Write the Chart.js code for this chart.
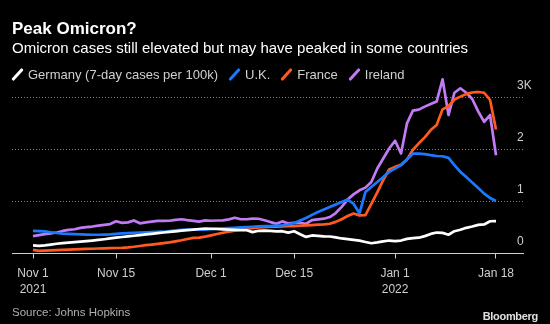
<!DOCTYPE html>
<html>
<head>
<meta charset="utf-8">
<script src="https://cdn.jsdelivr.net/npm/chart.js@4/dist/chart.umd.min.js"></script>
<style>
  body { margin: 0; background: #000; }
  #wrap { position: relative; width: 550px; height: 324px; background: #000; font-family: "Liberation Sans", Arial, sans-serif; }
  #wrap canvas { position: absolute; left: 0; top: 0; }
  .txt { position: absolute; white-space: nowrap; }
  #title { left: 12px; top: 20px; font-size: 17px; line-height: 17px; font-weight: bold; color: #fff; }
  #subtitle { left: 12px; top: 40px; font-size: 15px; line-height: 15px; color: #fff; }
  #legend { left: 12px; top: 68px; font-size: 13px; line-height: 13px; color: #d0d0d0; display: flex; align-items: center; }
  #legend .item { display: flex; align-items: center; margin-right: 11px; }
  #legend .sw { display: inline-block; width: 11px; height: 13px; position: relative; margin-right: 5px; }
  #legend .sw i { position: absolute; left: 4px; top: -1px; width: 3px; height: 15px; transform: rotate(42deg); border-radius: 1px; }
  #source { left: 12px; top: 306px; font-size: 11.5px; line-height: 12px; color: #b0b0b0; }
  #brand { right: 12px; top: 310px; font-size: 11px; line-height: 12px; font-weight: bold; color: #e0e0e0; letter-spacing: -0.3px; }
</style>
</head>
<body>
<div id="wrap">
  <canvas id="chart" width="550" height="324"></canvas>
  <div class="txt" id="title">Peak Omicron?</div>
  <div class="txt" id="subtitle">Omicron cases still elevated but may have peaked in some countries</div>
  <div class="txt" id="legend"></div>
  <div class="txt" id="source">Source: Johns Hopkins</div>
  <div class="txt" id="brand">Bloomberg</div>
</div>
<script>
// days since Nov 1 2021 (Nov 1 .. Jan 18)
const startDay = 0;

const tickDays = [0, 14, 30, 44, 61, 78];
const tickLabels = [['Nov 1', '2021'], 'Nov 15', 'Dec 1', 'Dec 15', ['Jan 1', '2022'], 'Jan 18'];

const yTicks = [0, 1000, 2000, 3000];
const yTickLabels = ['0', '1', '2', '3K'];

const seriesNames = ['Germany (7-day cases per 100k)', 'U.K.', 'France', 'Ireland'];
const seriesColors = ['#ffffff', '#1a7aff', '#ff5b1f', '#c27af5'];

const germany = [155, 148, 158, 172, 188, 200, 210, 220, 230, 240,
  250, 262, 275, 290, 305, 318, 330, 342, 355, 368,
  380, 392, 405, 418, 428, 440, 452, 462, 472, 478,
  477, 472, 466, 460, 456, 452, 448, 412, 438, 440,
  436, 428, 430, 402, 430, 372, 320, 348, 340, 332,
  328, 310, 290, 278, 262, 248, 222, 198, 215, 235,
  250, 240, 250, 282, 298, 305, 335, 378, 404, 398,
  362, 430, 458, 495, 520, 552, 560, 622, 624];

const uk = [435, 432, 425, 410, 395, 385, 378, 372, 368, 365,
  362, 362, 365, 370, 378, 388, 394, 400, 405, 408,
  412, 416, 420, 430, 445, 458, 462, 463, 462, 458,
  470, 478, 484, 490, 497, 503, 510, 516, 522, 526,
  530, 536, 542, 560, 587, 635, 684, 745, 800, 850,
  897, 945, 993, 1040, 960, 775, 1185, 1284, 1380, 1477,
  1574, 1638, 1703, 1812, 1925, 1925, 1915, 1896, 1880, 1875,
  1845, 1703, 1574, 1477, 1367, 1264, 1155, 1071, 1013];

const france = [70, 52, 55, 60, 65, 70, 75, 80, 85, 88,
  92, 96, 100, 103, 106, 110, 118, 130, 145, 160,
  172, 185, 200, 215, 235, 255, 280, 300, 305, 325,
  350, 375, 400, 420, 440, 458, 477, 490, 503, 510,
  516, 519, 522, 525, 529, 535, 542, 548, 555, 562,
  574, 610, 660, 722, 770, 735, 740, 955, 1180, 1415,
  1620, 1670, 1710, 1810, 2000, 2125, 2240, 2380, 2480, 2780,
  2840, 2970, 3025, 3077, 3105, 3115, 3100, 2960, 2393];

const ireland = [335, 355, 372, 388, 405, 435, 455, 468, 495, 508,
  520, 538, 552, 568, 622, 590, 600, 638, 582, 600,
  615, 628, 630, 632, 650, 660, 642, 630, 615, 640,
  632, 636, 639, 658, 690, 660, 660, 672, 670, 640,
  606, 575, 619, 580, 593, 590, 574, 645, 658, 671,
  703, 780, 900, 1040, 1140, 1219, 1270, 1380, 1638, 1832,
  2025, 2174, 1929, 2509, 2754, 2775, 2832, 2883, 2930, 3360,
  2670, 3100, 3186, 3100, 2980, 2740, 2541, 2670, 1896];

const allSeries = [germany, uk, france, ireland];

// legend
const legendEl = document.getElementById('legend');
seriesNames.forEach((name, i) => {
  const item = document.createElement('span');
  item.className = 'item';
  item.innerHTML = '<span class="sw"><i style="background:' + seriesColors[i] + '"></i></span>' + name;
  legendEl.appendChild(item);
});

const datasets = allSeries.map((vals, i) => ({
  label: seriesNames[i],
  data: vals.map((v, j) => ({ x: startDay + j, y: v })),
  borderColor: seriesColors[i],
  backgroundColor: seriesColors[i],
  borderWidth: 2.7,
  pointRadius: 0,
  tension: 0,
  borderJoinStyle: 'round'
}));

const axisFont = { family: '"Liberation Sans", Arial, sans-serif', size: 12 };

// y labels sit just above their gridline, overlapping the right end of the plot
const yLabelPlugin = {
  id: 'yLabels',
  afterDraw(chart) {
    const { ctx, chartArea, scales } = chart;
    ctx.save();
    ctx.font = '12px "Liberation Sans", Arial, sans-serif';
    ctx.fillStyle = '#cfcfcf';
    ctx.textAlign = 'left';
    ctx.textBaseline = 'middle';
    yTicks.forEach((v, i) => {
      ctx.fillText(yTickLabels[i], chartArea.right - 6, scales.y.getPixelForValue(v) - 12);
    });
    ctx.restore();
  }
};

new Chart(document.getElementById('chart'), {
  type: 'line',
  data: { datasets: datasets },
  plugins: [yLabelPlugin],
  options: {
    responsive: false,
    animation: false,
    events: [],
    layout: { padding: { top: 72, left: 12, right: 0, bottom: 0 } },
    plugins: {
      legend: { display: false },
      title: { display: false },
      tooltip: { enabled: false }
    },
    scales: {
      x: {
        type: 'linear',
        min: -3.54,
        max: 82.55,
        afterFit: (s) => { s.height = 70.5; },
        afterBuildTicks: (s) => { s.ticks = tickDays.map(v => ({ value: v })); },
        grid: { drawOnChartArea: false, drawTicks: true, tickLength: 5, color: '#cfcfcf', lineWidth: 1 },
        border: { display: true, color: '#cfcfcf', width: 1 },
        ticks: {
          autoSkip: false,
          maxRotation: 0,
          padding: 7.5,
          color: '#cfcfcf',
          font: { ...axisFont, lineHeight: 1.3 },
          callback: (v) => tickLabels[tickDays.indexOf(v)]
        }
      },
      y: {
        position: 'right',
        min: 0,
        max: 3500,
        afterFit: (s) => { s.width = 27; },
        afterBuildTicks: (s) => { s.ticks = yTicks.map(v => ({ value: v })); },
        grid: {
          drawTicks: false,
          color: (c) => c.tick && c.tick.value === 0 ? 'rgba(0,0,0,0)' : '#808080',
          lineWidth: 1
        },
        border: { display: false, dash: [1, 2] },
        ticks: { display: false }
      }
    }
  }
});
</script>
</body>
</html>
